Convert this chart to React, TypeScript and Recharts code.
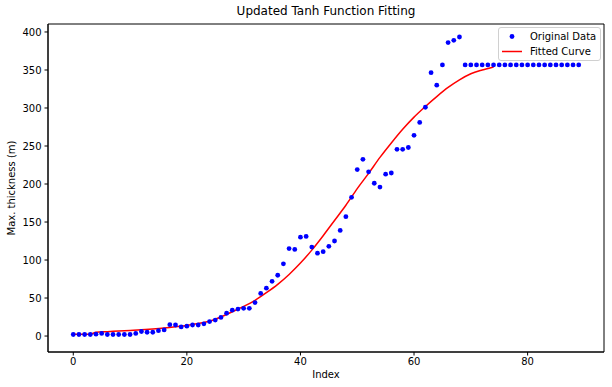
import React from "react";
import {
  ComposedChart,
  Scatter,
  Line,
  XAxis,
  YAxis,
  ReferenceArea,
} from "recharts";

const indices: number[] = Array.from({ length: 90 }, (_, i) => i);

const originalValues: number[] = [
  2, 2, 2, 2, 2.5, 3.5, 2, 2, 2, 2,
  2, 3.5, 6, 5, 5, 7, 8, 15, 14.5, 12,
  13, 14.5, 14.5, 16, 19, 21, 24.5, 30, 34, 35.5,
  36.4, 36.4, 44, 56, 63, 72, 80, 95, 115, 114,
  130, 131, 117, 109, 111, 118, 125, 139, 157, 182.5,
  219, 232.5, 216, 201, 196, 213, 214.5, 245.6, 245.6, 248,
  264, 281, 301, 346.5, 330, 356.6, 386, 389, 393.4, 356.6,
  356.6, 356.6, 356.6, 356.6, 356.6, 356.6, 356.6, 356.6, 356.6, 356.6,
  356.6, 356.6, 356.6, 356.6, 356.6, 356.6, 356.6, 356.6, 356.6, 356.6,
];

const fitIndex: number[] = [
  0, 1, 2, 3, 4, 6, 8, 10, 12, 14, 16, 18, 20, 22, 24, 26, 28, 30, 32, 34,
  36, 38, 40, 42, 44, 46, 48, 50, 52, 54, 56, 58, 60, 62, 64, 66, 68, 70, 72, 74,
];
const fitValues: number[] = [
  2.2, 2.2, 2.2, 2.3, 5, 5.8, 6.5, 7.3, 8.2, 9.3, 10.6, 12.2, 14, 16.5, 19.5, 25, 32, 39, 47, 57,
  68, 81, 96, 113, 132, 152, 172, 194, 214, 235, 254, 272, 288, 302, 315, 327, 337, 345, 350, 354,
];

const xTicks: number[] = [0, 20, 40, 60, 80];
const yTicks: number[] = [0, 50, 100, 150, 200, 250, 300, 350, 400];
const xDomain: [number, number] = [-4.45, 93.45];
const yDomain: [number, number] = [-21, 410.5];

const scatterData = indices.map((x, i) => ({ x, y: originalValues[i] }));
const fitData = fitIndex.map((x, i) => ({ x, fit: fitValues[i] }));

const FONT = "'DejaVu Sans', sans-serif";

const Dot = (props: any) => {
  const { cx, cy } = props;
  if (cx == null || cy == null) return null;
  return <circle cx={cx} cy={cy} r={2.4} fill="#0000ff" />;
};

const LegendBox = () => (
  <div
    style={{
      position: "absolute",
      left: 498,
      top: 27,
      width: 103,
      height: 34,
      border: "1px solid #d0d0d0",
      borderRadius: 3,
      background: "rgba(255,255,255,0.8)",
      boxSizing: "border-box",
    }}
  >
    <svg width={103} height={34} style={{ position: "absolute", left: -1, top: -1 }}>
      <circle cx={14} cy={9.5} r={2.4} fill="#0000ff" />
      <line x1={4} y1={24.5} x2={24} y2={24.5} stroke="#ff0000" strokeWidth={1.5} />
      <text x={32} y={13} fontSize={10} fontFamily={FONT} fill="#000">
        Original Data
      </text>
      <text x={32} y={28} fontSize={10} fontFamily={FONT} fill="#000">
        Fitted Curve
      </text>
    </svg>
  </div>
);

export default function App() {
  return (
    <div style={{ position: "absolute", left: 0, top: 0, width: 612, height: 387, background: "#fff" }}>
      <div
        style={{
          position: "absolute",
          left: 48,
          width: 556,
          top: 4,
          textAlign: "center",
          fontFamily: FONT,
          fontSize: 12,
          color: "#000",
        }}
      >
        Updated Tanh Function Fitting
      </div>
      <ComposedChart
        width={612}
        height={387}
        margin={{ top: 24, right: 8, bottom: 0, left: 0 }}
      >
        <XAxis
          xAxisId="main"
          dataKey="x"
          type="number"
          domain={xDomain}
          ticks={xTicks}
          allowDataOverflow
          height={35}
          stroke="#000"
          tickSize={3.5}
          tickMargin={2}
          tick={{ fontSize: 10, fontFamily: FONT, fill: "#000" }}
          label={(p: any) => {
            const vb = p.viewBox;
            return (
              <text
                x={vb.x + vb.width / 2}
                y={vb.y + 26}
                textAnchor="middle"
                fontSize={10}
                fontFamily={FONT}
                fill="#000"
              >
                Index
              </text>
            );
          }}
        />
        <YAxis
          yAxisId="main"
          type="number"
          domain={yDomain}
          ticks={yTicks}
          allowDataOverflow
          width={48}
          stroke="#000"
          tickSize={3.5}
          tickMargin={3}
          tick={{ fontSize: 10, fontFamily: FONT, fill: "#000" }}
          label={(p: any) => {
            const vb = p.viewBox;
            const cx = vb.x + 15;
            const cy = vb.y + vb.height / 2;
            return (
              <text
                x={cx}
                y={cy}
                transform={`rotate(-90, ${cx}, ${cy})`}
                textAnchor="middle"
                fontSize={10}
                fontFamily={FONT}
                fill="#000"
              >
                Max. thickness (m)
              </text>
            );
          }}
        />
        <ReferenceArea
          xAxisId="main"
          yAxisId="main"
          x1={xDomain[0]}
          x2={xDomain[1]}
          y1={yDomain[0]}
          y2={yDomain[1]}
          fill="none"
          stroke="#000"
          strokeWidth={1}
          ifOverflow="visible"
        />
        <Scatter
          xAxisId="main"
          yAxisId="main"
          data={scatterData}
          dataKey="y"
          shape={<Dot />}
          isAnimationActive={false}
          name="Original Data"
        />
        <Line
          xAxisId="main"
          yAxisId="main"
          data={fitData}
          dataKey="fit"
          type="monotone"
          stroke="#ff0000"
          strokeWidth={1.5}
          dot={false}
          activeDot={false}
          isAnimationActive={false}
          name="Fitted Curve"
        />
      </ComposedChart>
      <LegendBox />
    </div>
  );
}
